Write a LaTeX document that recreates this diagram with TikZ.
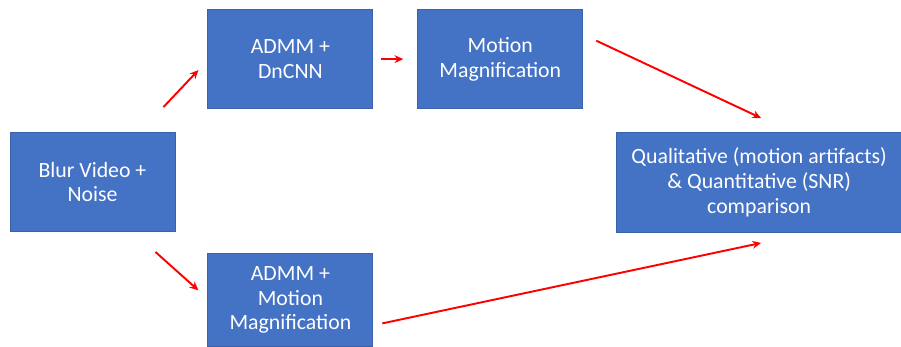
\documentclass[tikz,border=0pt]{standalone}
\usepackage{fontspec}
\setmainfont{Carlito}
\usetikzlibrary{positioning,arrows.meta}
\definecolor{boxblue}{HTML}{4472C4}
\definecolor{boxline}{HTML}{3A62AA}
\tikzset{step box/.style={rectangle,fill=boxblue,draw=boxline,line width=0.5pt,text=white,align=center,
    minimum width=3.3cm,minimum height=1.98cm,inner sep=0pt,font=\fontsize{12.4}{14.2}\selectfont},
  red arrow/.style={draw=red,line width=1.1pt,-{Stealth[length=5pt,width=4.5pt]}},}
\newcommand{\arr}[2]{\path[red arrow] (#1) -- (#2);}

\begin{document}
\begin{tikzpicture}
        \useasboundingbox (0,0) rectangle (18.02,-6.92);
        \node[step box] (blur) at (1.85,-3.64) {Blur Video +\\Noise};
        \node[step box] (dncnn) [above right = 0.46cm and 0.64cm of blur] {ADMM +\\DnCNN};
        \node[step box] (mm) [right = 0.88cm of dncnn] {Motion\\Magnification};
        \node[step box, minimum width=5.7cm, minimum height=2cm] (qual) [below right = 0.46cm and 0.66cm of mm] {Qualitative (motion artifacts)\\\& Quantitative (SNR)\\comparison};
        \node[step box, minimum height=1.86cm] (admmmm) [below right = 0.42cm and 0.64cm of blur] {ADMM +\\Motion\\Magnification};

        \arr{[shift={(-0.24,0.5)}]blur.north east}{[shift={(-0.18,0.78)}]dncnn.south west}
        \arr{[xshift=0.16cm]dncnn.east}{[xshift=-0.28cm]mm.west}
        \arr{[shift={(0.26,0.37)}]mm.east}{[shift={(0.04,0.28)}]qual.north}
        \arr{[shift={(-0.4,-0.4)}]blur.south east}{[shift={(-0.18,0.19)}]admmmm.west}
        \arr{[shift={(0.18,-0.47)}]admmmm.east}{[shift={(0.04,-0.2)}]qual.south}
    \end{tikzpicture}
\end{document}
